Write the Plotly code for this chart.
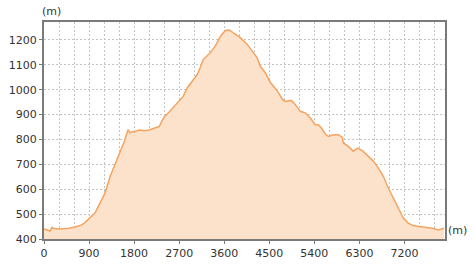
import plotly.graph_objects as go

distance_m = [0, 80, 120, 160, 200, 300, 400, 500, 620, 720, 800, 880, 1020, 1120, 1220,
              1320, 1400, 1520, 1600, 1680, 1720, 1760, 1800, 1900, 2000, 2100, 2200, 2300,
              2350, 2400, 2500, 2640, 2780, 2860, 2960, 3060, 3120, 3180, 3320, 3420, 3520,
              3620, 3700, 3820, 3920, 4060, 4160, 4260, 4320, 4420, 4520, 4660, 4760, 4820,
              4940, 5020, 5120, 5220, 5320, 5420, 5480, 5540, 5620, 5680, 5780, 5880, 5960,
              5980, 6080, 6180, 6260, 6360, 6480, 6580, 6680, 6780, 6880, 6980, 7080, 7180,
              7280, 7380, 7480, 7620, 7760, 7880, 7950, 7990]
elevation_m = [440, 435, 432, 447, 442, 440, 441, 443, 448, 454, 463, 477, 505, 545, 585,
               651, 690, 750, 790, 840, 826, 832, 830, 838, 835, 838, 846, 852,
               872, 890, 910, 940, 973, 1007, 1034, 1061, 1088, 1121, 1148, 1175, 1213,
               1238, 1240, 1222, 1209, 1182, 1155, 1128, 1094, 1068, 1030, 995, 962, 953,
               957, 940, 913, 907, 886, 859, 859, 846, 822, 812, 819, 819, 808,
               786, 772, 752, 765, 755, 732, 712, 685, 651, 604, 564, 524, 483,
               463, 454, 450, 446, 443, 436, 440, 443]

x_ticks = [0, 900, 1800, 2700, 3600, 4500, 5400, 6300, 7200]
y_ticks = [400, 500, 600, 700, 800, 900, 1000, 1100, 1200]

fig = go.Figure()
fig.add_trace(go.Scatter(
    x=distance_m, y=elevation_m, mode="lines",
    line=dict(color="#f5a35f", width=1.5),
    fill="tozeroy", fillcolor="#fde2cb",
    hoverinfo="skip", showlegend=False,
))

grid_col = "#c4c4c4"
grid_dash = "2px,2px"
frame_col = "#7a7a7a"
font = dict(family="DejaVu Sans, Verdana, sans-serif", size=11, color="#333333")

fig.update_layout(
    width=473, height=265,
    margin=dict(l=44, r=28, t=22, b=26, autoexpand=False),
    paper_bgcolor="white", plot_bgcolor="white",
    font=font,
    xaxis=dict(
        range=[0, 8010], tickvals=x_ticks, ticktext=[str(v) for v in x_ticks],
        showgrid=True, gridcolor=grid_col, griddash=grid_dash, gridwidth=1,
        minor=dict(dtick=300, tick0=0, showgrid=True, gridcolor=grid_col, griddash=grid_dash, gridwidth=1),
        showline=True, linecolor=frame_col, linewidth=2, mirror=True,
        ticks="outside", ticklen=3, tickcolor=frame_col,
        zeroline=False, tickfont=font, automargin=False,
    ),
    yaxis=dict(
        range=[400, 1272], tickvals=y_ticks, ticktext=[str(v) for v in y_ticks],
        showgrid=True, gridcolor=grid_col, griddash=grid_dash, gridwidth=1,
        showline=True, linecolor=frame_col, linewidth=2, mirror=True,
        ticks="outside", ticklen=3, tickcolor=frame_col,
        zeroline=False, tickfont=font, automargin=False,
    ),
    annotations=[
        dict(text="(m)", xref="paper", yref="paper", x=-0.01, y=1.0, yshift=2,
             xanchor="left", yanchor="bottom", showarrow=False, font=font),
        dict(text="(m)", xref="paper", yref="paper", x=1.0, y=0.0, xshift=1,
             xanchor="left", yanchor="bottom", showarrow=False, font=font),
    ],
)

fig.write_html("out.html")
